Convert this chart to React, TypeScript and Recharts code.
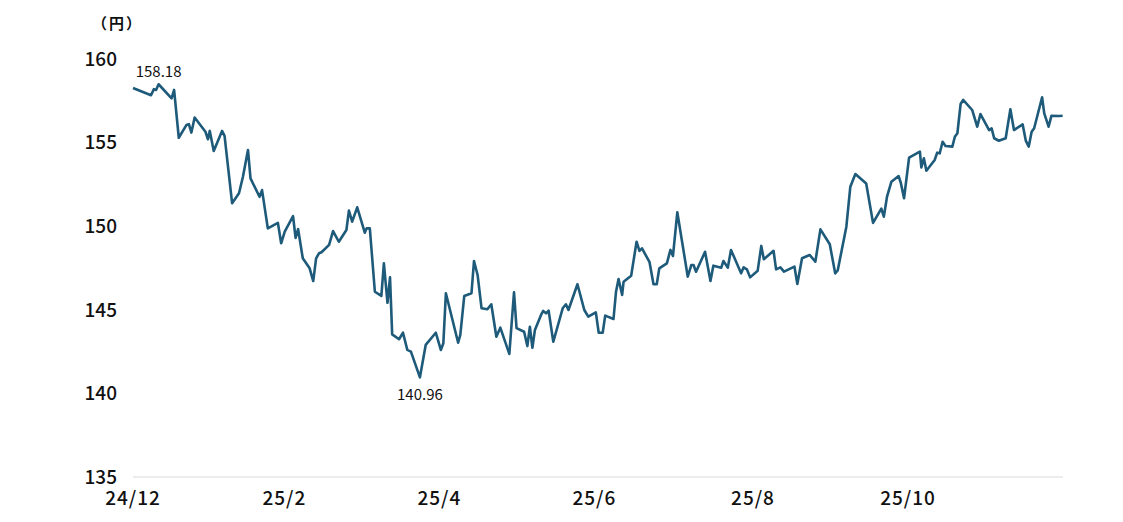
import { LineChart, Line, XAxis, YAxis, ReferenceDot } from "recharts"

// trading-day index from the first point
const days = [
  0, 5.0, 5.8, 6.4, 7.1, 10.7, 11.4, 12.7, 14.8, 15.5, 16.2, 17.1, 20.1, 20.8, 21.3, 22.4, 24.7, 25.4,
  27.5, 29.4, 30.5, 31.9, 32.6, 35.1, 35.8, 37.4, 40.2, 41.1, 42.1, 44.4, 45.1, 45.8, 47.1, 49.0, 50.0,
  50.8, 51.6, 52.3, 54.4, 55.5, 57.1, 59.2, 59.9, 60.8, 62.2, 64.3, 64.8, 65.7, 67.1, 68.9, 69.6, 70.6,
  71.3, 71.9, 73.8, 74.9, 76.1, 77.1, 79.6, 81.2, 84.0, 85.4, 86.1, 86.8, 90.2, 90.8, 91.9, 93.9, 94.6,
  95.6, 96.7, 98.3, 99.4, 100.8, 101.9, 104.4, 105.7, 106.4, 108.5, 109.4, 110.1, 110.8, 111.5, 113.2,
  113.8, 114.6, 115.3, 116.6, 119.2, 120.1, 120.8, 123.3, 125.2, 126.3, 128.4, 129.2, 130.3, 131.0,
  133.3, 134.0, 134.7, 135.7, 136.1, 138.2, 139.7, 140.5, 141.2, 143.3, 144.4, 145.3, 146.0, 148.1,
  149.1, 149.8, 151.0, 153.9, 154.9, 155.5, 156.2, 158.7, 160.2, 161.0, 163.2, 163.8, 165.0, 165.9,
  168.7, 169.4, 170.3, 171.2, 173.3, 174.3, 175.0, 177.7, 178.4, 179.6, 180.6, 183.5, 184.3, 185.6,
  187.7, 189.3, 190.7, 193.3, 194.8, 195.5, 197.9, 199.0, 200.4, 203.4, 205.3, 207.6, 208.3, 209.2,
  210.4, 212.4, 213.0, 213.9, 215.3, 218.3, 218.7, 219.4, 220.1, 222.4, 223.1, 223.8, 224.6, 225.4,
  227.3, 228.0, 228.7, 229.6, 230.3, 232.8, 234.2, 235.1, 237.5, 238.2, 238.9, 240.2, 242.1, 243.4,
  244.4, 246.8, 247.7, 248.5, 249.3, 250.0, 252.2, 252.8, 254.0, 254.8, 256.9, 257.9,
]

// USD/JPY (円)
const yen = [
  158.27, 157.83, 158.2, 158.15, 158.49, 157.65, 158.15, 155.29, 156.05, 156.1, 155.6, 156.5, 155.65,
  155.2, 155.7, 154.5, 155.7, 155.4, 151.37, 151.97, 152.96, 154.56, 152.86, 151.76, 152.16, 149.87,
  150.2, 148.98, 149.67, 150.6, 149.3, 149.83, 148.08, 147.48, 146.72, 148.08, 148.38, 148.44, 148.88,
  149.71, 149.07, 149.77, 150.93, 150.27, 151.13, 149.61, 149.87, 149.87, 146.08, 145.83, 147.78,
  145.42, 146.94, 143.53, 143.24, 143.63, 142.6, 142.5, 140.96, 142.9, 143.63, 142.6, 143.0, 145.99,
  143.03, 143.5, 145.83, 145.99, 147.92, 147.08, 145.09, 145.03, 145.33, 143.39, 143.93, 142.36,
  146.05, 143.9, 143.69, 142.83, 143.99, 142.73, 143.79, 144.69, 144.93, 144.79, 144.95, 143.09,
  145.09, 145.33, 144.99, 146.53, 144.99, 144.59, 144.85, 143.63, 143.63, 144.65, 144.45, 146.08,
  146.84, 145.89, 146.68, 147.04, 149.07, 148.52, 148.68, 147.85, 146.53, 146.53, 147.48, 147.78,
  148.58, 148.22, 150.83, 146.98, 147.68, 147.68, 147.28, 148.47, 146.72, 147.64, 147.52, 147.92,
  147.52, 148.58, 147.18, 147.54, 147.42, 146.94, 147.34, 148.82, 148.02, 148.53, 147.42, 147.54,
  147.28, 147.58, 146.54, 148.08, 148.28, 147.88, 149.81, 148.92, 147.18, 147.35, 149.97, 152.36,
  153.12, 152.55, 150.2, 151.05, 150.57, 151.79, 152.66, 153.0, 152.6, 151.67, 154.1, 154.46, 153.52,
  154.06, 153.32, 153.96, 154.4, 154.36, 155.05, 154.8, 154.76, 155.35, 155.56, 157.31, 157.55,
  156.95, 155.95, 156.71, 155.75, 155.85, 155.26, 155.11, 155.26, 156.99, 155.75, 156.09, 155.1,
  154.76, 155.65, 155.86, 157.71, 156.75, 155.95, 156.61, 156.59, 156.61,
]

const tickDays = [0, 42, 85, 128, 172, 215]
const tickLabels = ["24/12", "25/2", "25/4", "25/6", "25/8", "25/10"]
const yTicks = [135, 140, 145, 150, 155, 160]
const highText = "158.18"
const lowText = "140.96"

const data = days.map((day, i) => ({ day, yen: yen[i] }))

const hiIdx = yen.indexOf(Math.max(...yen))
const loIdx = yen.indexOf(Math.min(...yen))

const font = "'Noto Sans CJK JP', 'Noto Sans', sans-serif"

export default function App() {
  return (
    <div style={{ position: "absolute", left: 0, top: 0, width: 1123, height: 522, background: "#fff" }}>
      <div
        style={{
          position: "absolute",
          left: 92,
          top: 12,
          fontFamily: font,
          fontSize: 15,
          fontWeight: 700,
          letterSpacing: 2,
          color: "#111",
          whiteSpace: "nowrap",
        }}
      >
        （円）
      </div>
      <LineChart width={1123} height={522} data={data} margin={{ top: 59, right: 60, bottom: 13, left: 0 }}>
        <XAxis
          dataKey="day"
          type="number"
          domain={[0, 258]}
          ticks={tickDays}
          tickFormatter={(v: number) => tickLabels[tickDays.indexOf(v)]}
          tickLine={false}
          axisLine={{ stroke: "#d9d9d9", strokeWidth: 1 }}
          tickMargin={9}
          height={32}
          tick={{ fill: "#111", fontSize: 19, fontFamily: font, fontWeight: 500, letterSpacing: 1 }}
          interval={0}
        />
        <YAxis
          type="number"
          domain={[135, 160]}
          ticks={yTicks}
          width={133}
          tickLine={false}
          axisLine={false}
          tickMargin={10}
          tick={{ fill: "#111", fontSize: 19, fontFamily: font, fontWeight: 500 }}
          interval={0}
        />
        <Line
          type="linear"
          dataKey="yen"
          stroke="#1e5a7a"
          strokeWidth={2.6}
          strokeLinejoin="round"
          dot={false}
          isAnimationActive={false}
        />
        <ReferenceDot
          x={days[hiIdx]}
          y={yen[hiIdx]}
          r={0}
          fill="none"
          stroke="none"
          label={{ value: highText, position: "top", offset: 7, fill: "#111", fontSize: 15, fontFamily: font }}
        />
        <ReferenceDot
          x={days[loIdx]}
          y={yen[loIdx]}
          r={0}
          fill="none"
          stroke="none"
          label={{ value: lowText, position: "bottom", offset: 12, fill: "#111", fontSize: 15, fontFamily: font }}
        />
      </LineChart>
    </div>
  )
}
